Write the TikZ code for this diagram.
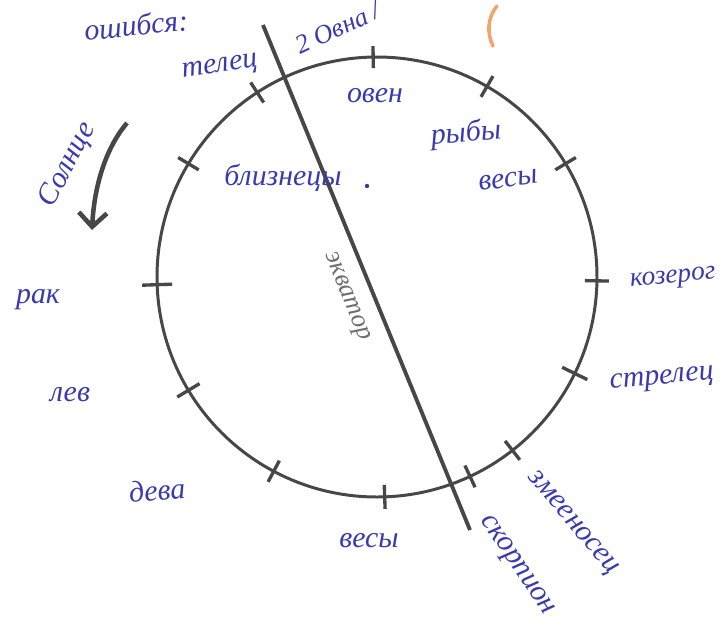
\documentclass[tikz,border=0pt]{standalone}
\usepackage{fontspec}
\setmainfont{Liberation Serif}
\usetikzlibrary{arrows.meta,calc}
\definecolor{ink}{HTML}{3A3AB0}
\definecolor{pencil}{HTML}{474747}
\definecolor{lightpencil}{HTML}{6E6E6E}
\definecolor{orangemark}{HTML}{F2A46A}
\tikzset{
  lbl/.style={text=ink, font=\itshape\fontsize{17}{19}\selectfont, inner sep=0pt},
  tickmark/.style={draw=pencil, line width=1.9pt},
  ringline/.style={draw=pencil, line width=1.7pt},
  axisline/.style={draw=pencil, line width=2.2pt},
}
\begin{document}
\begin{tikzpicture}[x=0.02cm, y=-0.02cm]
\useasboundingbox (0,0) rectangle (724,626);
% circle
\coordinate (c) at (377,277);
\draw[ringline] (c) circle[radius=220];
% ticks
\foreach \a/\l in {91/22, 60/24, 31/24, -1/24, -26/28, -52/24, -65/24, -88/24, 242/24, 211/26, 182/30, 149/24, 123/24}{
  \draw[tickmark] ($(c)+(-\a:{220-\l/2})$) -- ($(c)+(-\a:{220+\l/2})$);
}
% equator line
\coordinate (axA) at (263,25);
\coordinate (axB) at (470,530);
\draw[axisline] (axA) -- (axB);
\node[text=lightpencil, font=\itshape\fontsize{15}{17}\selectfont, rotate=-68, inner sep=0pt] (ekv) at (346,297) {экватор};
% sun arrow
\coordinate (arS) at (127,123);
\coordinate (arE) at (92,230);
\draw[draw=pencil, line width=2.6pt, -{Straight Barb[length=8pt,width=16pt]}] (arS) .. controls (104,150) and (94,190) .. (arE);
\node[lbl, rotate=62] (sun) at (68,165) {Солнце};
% labels
\node[lbl, rotate=6] (osh) at (136,25) {ошибся:};
\node[lbl, rotate=8] (tel) at (220,68) {телец};
\node[lbl, rotate=25, font=\itshape\fontsize{15}{17}\selectfont] (ovna) at (338,28) {2 Овна /};
\node[lbl] (oven) at (375,96) {овен};
\node[lbl, rotate=5] (ryby) at (466,134) {рыбы};
\node[lbl, rotate=8] (vesy1) at (508,180) {весы};
\node[lbl, rotate=5, font=\itshape\fontsize{15.5}{17}\selectfont] (koz) at (673,279) {козерог};
\node[lbl, rotate=5] (strel) at (662,380) {стрелец};
\node[lbl, rotate=-50] (zmee) at (572,524) {змееносец};
\node[lbl, rotate=-56] (skor) at (516,566) {скорпион};
\node[lbl] (vesy2) at (369,541) {весы};
\node[lbl, rotate=5] (deva) at (157,490) {дева};
\node[lbl] (lev) at (70,395) {лев};
\node[lbl] (rak) at (38,300) {рак};
\node[lbl] (bliz) at (283,178) {близнецы};
\fill[ink] (367,186) circle[radius=2.2];
% orange mark
\draw[draw=orangemark, line width=2pt, line cap=round] (497,6) .. controls (487,18) and (487,34) .. (493,46);
\end{tikzpicture}
\end{document}
